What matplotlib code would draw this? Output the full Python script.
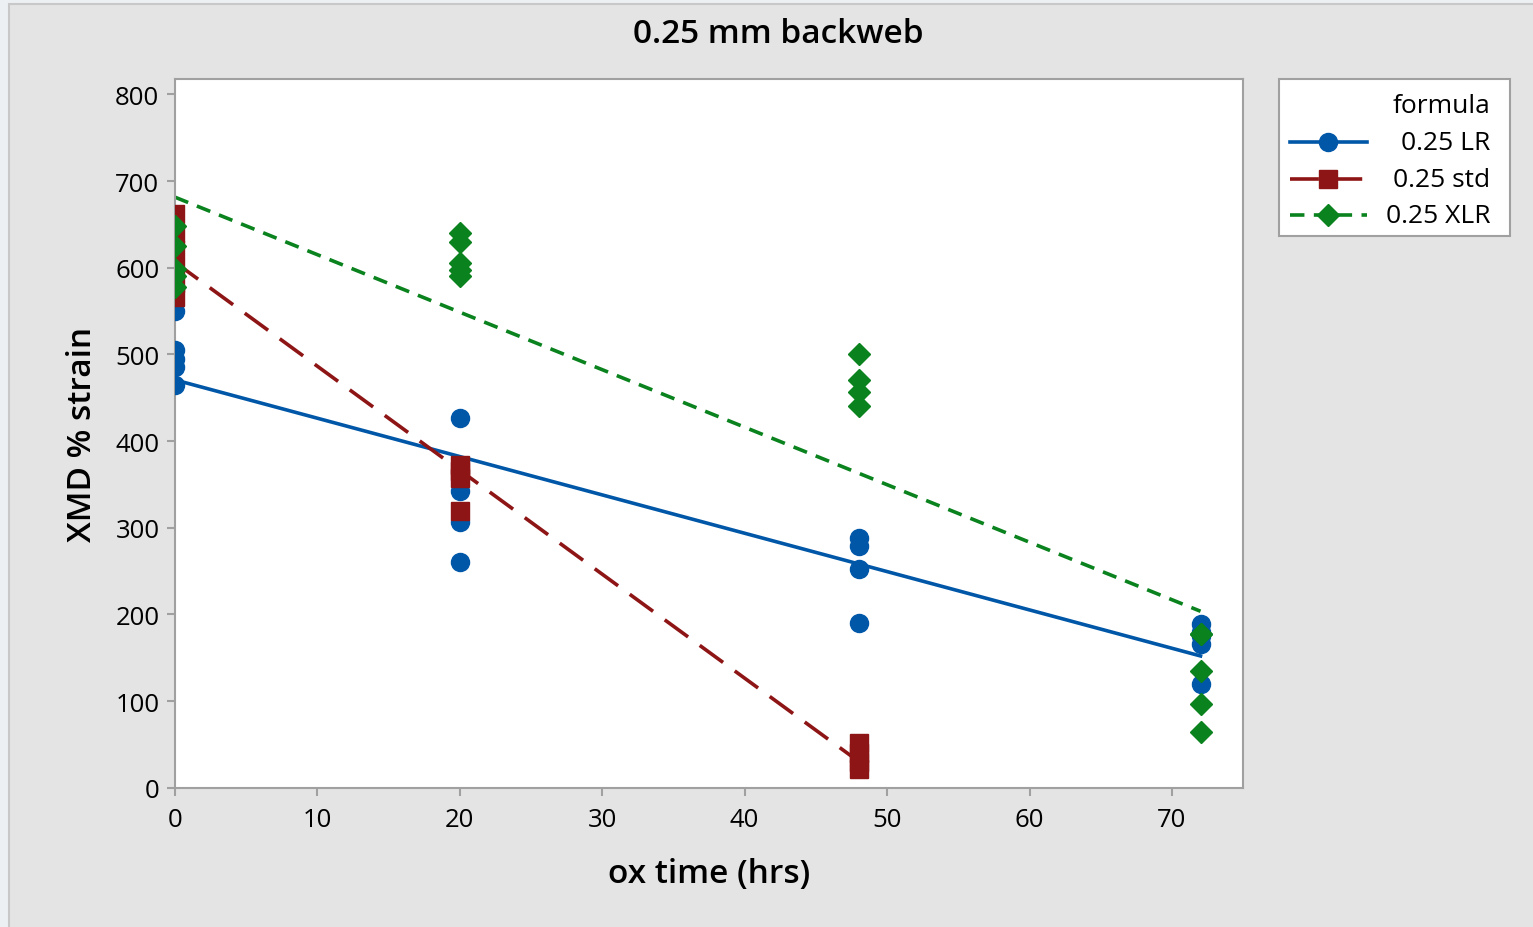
import numpy as np
import matplotlib
matplotlib.use('Agg')
import matplotlib.pyplot as plt
from matplotlib.lines import Line2D
from matplotlib.patches import Rectangle

plt.rcParams['font.family'] = ['Open Sans', 'DejaVu Sans']

# data
lr_x = [0, 0, 0, 0, 0, 20, 20, 20, 20, 48, 48, 48, 48, 72, 72, 72, 72, 72]
lr_y = [550, 505, 495, 485, 465, 427, 342, 307, 261, 288, 279, 252, 190, 189, 180, 175, 166, 120]

std_x = [0, 0, 0, 0, 0, 0, 20, 20, 20, 20, 48, 48, 48, 48]
std_y = [662, 640, 620, 600, 582, 566, 372, 365, 357, 319, 52, 40, 30, 22]

xlr_x = [0, 0, 0, 0, 0, 20, 20, 20, 20, 20, 48, 48, 48, 48, 72, 72, 72, 72, 72]
xlr_y = [648, 625, 598, 590, 578, 640, 630, 605, 597, 590, 501, 470, 457, 441, 178, 178, 135, 97, 64]

labels = ['0.25 LR', '0.25 std', '0.25 XLR']
colors = ['#0057A8', '#8E1515', '#0A821E']
markers = ['o', 's', 'D']
styles = ['-', (0, (8, 4)), (0, (4, 2.6))]
msizes = [13, 12.5, 11.5]

fig = plt.figure(figsize=(15.33, 9.28), dpi=100, facecolor='#edf0f3')
# grey panel behind everything
fig.patches.append(Rectangle((9 / 1533, -0.01), 1, 1.01 - 5 / 928, transform=fig.transFigure,
                             facecolor='#e4e4e4', edgecolor='#c8c8c8', linewidth=1.5, zorder=-5))

ax = fig.add_axes([0.114, 0.150, 0.697, 0.764])

series = [(lr_x, lr_y), (std_x, std_y), (xlr_x, xlr_y)]
for (xs, ys), c, m, ls, ms in zip(series, colors, markers, styles, msizes):
    xs = np.array(xs, dtype=float)
    ys = np.array(ys, dtype=float)
    ax.plot(xs, ys, linestyle='none', marker=m, color=c, markersize=ms, zorder=3)
    # fitted regression line
    b, a = np.polyfit(xs, ys, 1)
    xx = np.array([xs.min(), xs.max()])
    ax.plot(xx, a + b * xx, linestyle=ls, color=c, linewidth=2.6, zorder=2)

ax.set_xlim(0, 75)
ax.set_ylim(0, 818)
ax.set_xticks(range(0, 71, 10))
ax.set_yticks(range(0, 801, 100))
ax.tick_params(labelsize=18.5, length=6, width=1.5, color='#a0a0a0', direction='out', pad=5)
ax.tick_params(axis='x', pad=8)
for s in ax.spines.values():
    s.set_color('#a0a0a0')
    s.set_linewidth(1.5)

ax.set_xlabel('ox time (hrs)', fontsize=24, fontweight='semibold', labelpad=18)
ax.set_ylabel('XMD % strain', fontsize=24, fontweight='semibold', labelpad=12)
fig.text(0.508, 0.963, '0.25 mm backweb', fontsize=24, fontweight='semibold',
         ha='center', va='center')

# legend drawn by hand so the labels sit right-aligned like the original
fig.patches.append(Rectangle((0.8343, 0.7446), 0.1507, 0.1692, transform=fig.transFigure,
                             facecolor='white', edgecolor='#a0a0a0', linewidth=1.5))
fig.text(0.972, 0.8847, 'formula', fontsize=19, ha='right', va='center')
ys_leg = [0.8459, 0.806, 0.7672]
for y, lab, c, m, ls, ms in zip(ys_leg, labels, colors, markers, styles, msizes):
    fig.lines.append(Line2D([0.8415, 0.892], [y, y], transform=fig.transFigure, color=c,
                            linestyle=ls, linewidth=2.6))
    fig.lines.append(Line2D([0.8665], [y], transform=fig.transFigure, color=c, marker=m,
                            markersize=ms, linestyle='none'))
    fig.text(0.972, y, lab, fontsize=19, ha='right', va='center')

fig.savefig('out.png', dpi=100, facecolor=fig.get_facecolor())
